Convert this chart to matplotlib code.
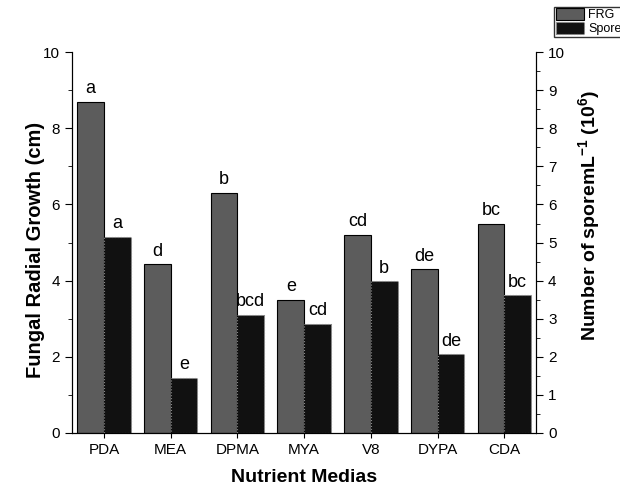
import matplotlib
matplotlib.use('Agg')
import matplotlib.pyplot as plt
import numpy as np
from matplotlib.ticker import MultipleLocator

plt.rcParams['font.family'] = ['Liberation Sans', 'DejaVu Sans']
plt.rcParams['mathtext.fontset'] = 'custom'
plt.rcParams['mathtext.rm'] = 'Liberation Sans'
plt.rcParams['mathtext.bf'] = 'Liberation Sans:bold'

medias = ['PDA', 'MEA', 'DPMA', 'MYA', 'V8', 'DYPA', 'CDA']
frg = [8.7, 4.43, 6.3, 3.5, 5.2, 4.3, 5.5]
spore = [5.15, 1.45, 3.1, 2.87, 3.98, 2.07, 3.62]
frg_letters = ['a', 'd', 'b', 'e', 'cd', 'de', 'bc']
spore_letters = ['a', 'e', 'bcd', 'cd', 'b', 'de', 'bc']

x = np.arange(len(medias))
w = 0.4

fig = plt.figure(figsize=(6.2, 4.97), dpi=100)
ax = fig.add_axes([0.116, 0.129, 0.749, 0.766])
ax2 = ax.twinx()

b1 = ax.bar(x - w / 2, frg, w, color='#5c5c5c', edgecolor='black', linewidth=0.8, label='FRG')
b2 = ax2.bar(x + w / 2, spore, w, color='#111111', edgecolor='#888888', linewidth=0.8,
             linestyle=':', label='Spore')

for xi, v, t in zip(x, frg, frg_letters):
    ax.text(xi - w / 2, v + 0.12, t, ha='center', va='bottom', fontsize=13)
for xi, v, t in zip(x, spore, spore_letters):
    ax2.text(xi + w / 2, v + 0.12, t, ha='center', va='bottom', fontsize=13)

ax.set_xlim(-0.48, 6.48)
ax.set_ylim(0, 10)
ax2.set_ylim(0, 10)
ax.set_xticks(x)
ax.set_xticklabels(medias, fontsize=11)
ax.yaxis.set_major_locator(MultipleLocator(2))
ax.yaxis.set_minor_locator(MultipleLocator(1))
ax2.yaxis.set_major_locator(MultipleLocator(1))
ax2.yaxis.set_minor_locator(MultipleLocator(0.5))
ax.tick_params(axis='both', which='both', direction='out', labelsize=11)
ax.tick_params(axis='y', which='major', length=5)
ax.tick_params(axis='y', which='minor', length=3)
ax2.tick_params(axis='y', which='major', direction='out', length=5, labelsize=11)
ax2.tick_params(axis='y', which='minor', direction='out', length=3)

for a in (ax, ax2):
    a.spines['top'].set_visible(False)

ax.set_xlabel('Nutrient Medias', fontsize=14, fontweight='bold', labelpad=9)
ax.set_ylabel('Fungal Radial Growth (cm)', fontsize=14.5, fontweight='bold')
ax.yaxis.set_label_coords(-0.058, 0.48)
ax2.set_ylabel(r'Number of sporemL$^{\mathbf{-1}}$ (10$^{\mathbf{6}}$)', fontsize=14,
               fontweight='bold')
ax2.yaxis.set_label_coords(1.086, 0.57)

fig.legend([b1, b2], ['FRG', 'Spore'], loc='upper left', bbox_to_anchor=(0.894, 0.986),
           fontsize=9, frameon=True, fancybox=False, edgecolor='black',
           borderpad=0.1, labelspacing=0.05, handlelength=2.3, handleheight=1.1,
           handletextpad=0.3, borderaxespad=0)

fig.savefig('out.png', dpi=100)
